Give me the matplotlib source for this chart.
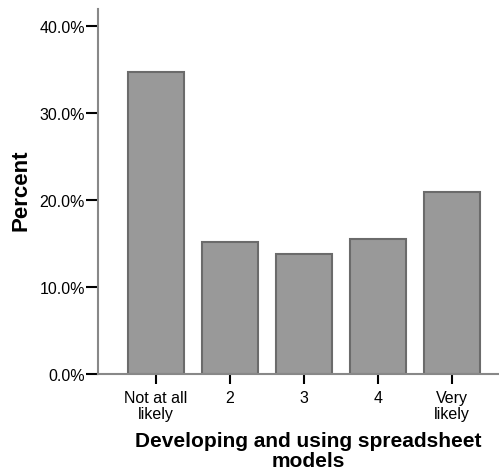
import numpy as np
import matplotlib.pyplot as plt
from matplotlib.ticker import PercentFormatter

# data
categories = ['Not at all\nlikely', '2', '3', '4', 'Very\nlikely']
percent = [34.7, 15.2, 13.8, 15.5, 20.9]
yticks = [0, 10, 20, 30, 40]

plt.rcParams['font.family'] = ['Liberation Sans', 'DejaVu Sans']

fig = plt.figure(figsize=(4.99, 4.77), dpi=100)
ax = fig.add_axes([98 / 499, 102 / 477, 1 - 98 / 499, 365 / 477])

x = np.arange(len(categories))
ax.bar(x, percent, width=0.757, color='#999999', edgecolor='#6b6b6b', linewidth=1.5)

ax.set_xlim(-0.784, 4.635)
ax.set_ylim(0, 42)
ax.set_yticks(yticks)
ax.yaxis.set_major_formatter(PercentFormatter(decimals=1))
ax.set_xticks(x)
ax.set_xticklabels(categories, fontsize=11.5, linespacing=1.05)
ax.tick_params(axis='y', labelsize=11.5, length=9, width=1.5, color='black', pad=0.5)
ax.tick_params(axis='x', length=7.5, width=1.5, color='black', pad=4)

for s in ['top', 'right']:
    ax.spines[s].set_visible(False)
for s in ['left', 'bottom']:
    ax.spines[s].set_color('#888888')
    ax.spines[s].set_linewidth(1.5)

ax.set_ylabel('Percent', fontsize=16, fontweight='bold')
ax.yaxis.set_label_coords(-0.165, 0.505)
ax.set_xlabel('Developing and using spreadsheet\nmodels', fontsize=15,
              fontweight='bold', linespacing=1.1)
ax.xaxis.set_label_coords(0.524, -0.155)
ax.xaxis.label.set_va('top')

fig.savefig('out.png', dpi=100)
